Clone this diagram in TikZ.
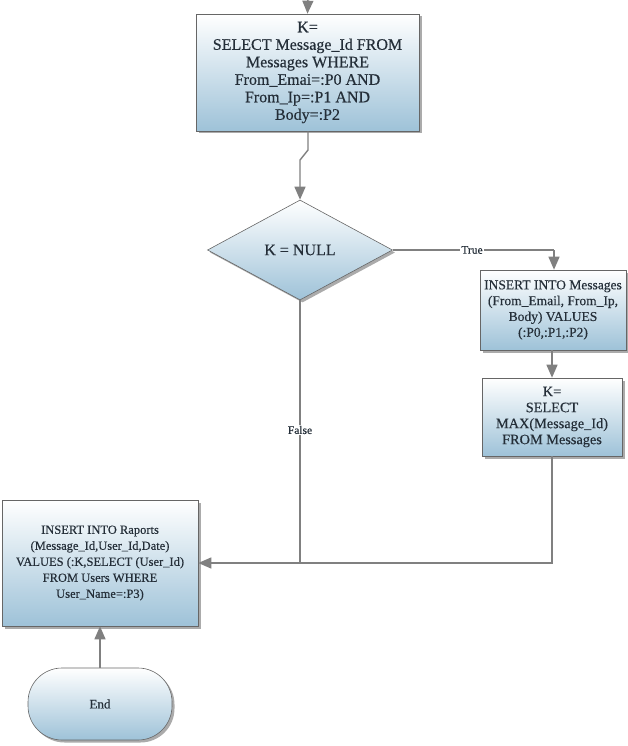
\documentclass[tikz,border=0pt]{standalone}
\usepackage{fontspec}
\setmainfont{Liberation Serif}[FakeBold=0.35]
\usetikzlibrary{arrows.meta,shapes.geometric,shadows,calc}
\definecolor{boxblue}{RGB}{158,194,216}
\definecolor{txt}{RGB}{36,46,56}
\definecolor{ln}{RGB}{128,128,128}
\tikzset{
  flow/.style={draw=ln!80!black, line width=0.6pt, top color=white, bottom color=boxblue,
    text=txt, align=center, inner sep=2pt,
    drop shadow={shadow xshift=2.5pt, shadow yshift=-2.5pt, fill=black!55, opacity=0.6}},
  procbox/.style={flow, rectangle},
  decbox/.style={flow, diamond, inner sep=0pt},
  termbox/.style={flow, rectangle, rounded corners=34pt},
  conn/.style={draw=ln, line width=1.4pt, -{Triangle[length=13pt,width=11pt]}},
  plain/.style={draw=ln, line width=1.4pt},
  lbl/.style={fill=white, inner sep=1pt, text=txt, font=\fontsize{11.5}{12}\selectfont}
}
\begin{document}
\begin{tikzpicture}[x=1pt,y=-1pt]
\useasboundingbox (0,0) rectangle (627,746);
\node[procbox, minimum width=223pt, minimum height=117pt, font=\fontsize{16}{17.5}\selectfont] (sel) at (307.5,72.5)
 {K=\\SELECT Message\_Id FROM\\Messages WHERE\\From\_Emai=:P0 AND\\From\_Ip=:P1 AND\\Body=:P2};
\node[decbox, minimum width=185pt, minimum height=100pt, font=\fontsize{16}{18}\selectfont] (dec) at (300,250) {K = NULL};
\node[procbox, minimum width=146pt, minimum height=80pt, font=\fontsize{13.5}{15.8}\selectfont] (ins) at (553,310)
 {INSERT INTO Messages\\(From\_Email, From\_Ip,\\Body) VALUES\\(:P0,:P1,:P2)};
\node[procbox, minimum width=140pt, minimum height=78pt, font=\fontsize{14.3}{16}\selectfont] (max) at (552,417)
 {K=\\SELECT\\MAX(Message\_Id)\\FROM Messages};
\node[procbox, minimum width=196pt, minimum height=126pt, font=\fontsize{12.5}{16}\selectfont] (rap) at (100,563)
 {INSERT INTO Raports\\(Message\_Id,User\_Id,Date)\\VALUES (:K,SELECT (User\_Id)\\FROM Users WHERE\\User\_Name=:P3)};
\node[termbox, minimum width=144pt, minimum height=72pt, font=\fontsize{13}{15}\selectfont] (end) at (100,704) {End};
\coordinate (in) at (308,-4);
\coordinate (jog1) at (308,150);
\coordinate (jog2) at (300,160);
\coordinate (tr) at (554,250);
\coordinate (join) at (300,563);
\draw[conn] (in) -- (sel.north);
\draw[conn] (sel.south -| jog1) -- (jog1) -- (jog2) -- (dec.north);
\draw[plain] (dec.east) -- (tr);
\draw[conn] (tr) -- (ins.north -| tr);
\node[lbl] at (472,250) {True};
\draw[conn] (ins.south -| max.north) -- (max.north);
\draw[conn] (max.south) |- (rap.east);
\draw[plain] (dec.south) -- (join);
\node[lbl] at (300,430) {False};
\draw[conn] (end.north) -- (rap.south);
\end{tikzpicture}
\end{document}
